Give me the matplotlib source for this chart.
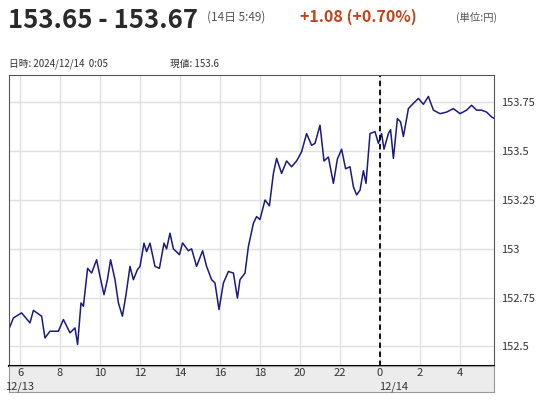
import matplotlib
matplotlib.use("Agg")
import matplotlib.pyplot as plt

plt.rcParams['font.family'] = ['Noto Sans CJK JP', 'DejaVu Sans']

hours = [5.47,5.67,6.08,6.5,6.67,7.08,7.25,7.5,7.92,8.17,8.5,8.75,8.88,9.05,9.17,9.38,9.58,9.83,10.0,10.2,
         10.37,10.53,10.75,10.92,11.12,11.3,11.5,11.67,11.87,12.0,12.2,12.33,12.5,12.75,12.97,13.2,13.33,13.5,13.67,13.97,
         14.13,14.42,14.58,14.83,15.13,15.33,15.58,15.75,15.95,16.17,16.42,16.67,16.87,17.0,17.25,17.42,17.67,17.83,18.0,18.25,
         18.47,18.67,18.83,19.08,19.33,19.58,19.83,20.08,20.33,20.58,20.75,21.0,21.2,21.42,21.67,21.87,22.08,22.28,22.5,22.67,
         22.83,23.0,23.17,23.3,23.5,23.75,23.92,24.08,24.2,24.42,24.53,24.67,24.87,25.03,25.17,25.42,25.67,25.92,26.17,26.42,
         26.67,27.0,27.33,27.67,28.0,28.33,28.58,28.83,29.08,29.33,29.58,29.72]
values = [152.595,152.646,152.672,152.621,152.685,152.655,152.544,152.578,152.578,152.638,152.57,152.595,152.51,152.723,152.706,152.90,152.876,152.944,152.859,152.765,
          152.842,152.944,152.842,152.723,152.655,152.765,152.91,152.842,152.893,152.91,153.029,152.986,153.029,152.91,152.90,153.029,153.0,153.08,153.0,152.97,
          153.03,152.99,153.0,152.91,152.99,152.91,152.842,152.825,152.689,152.825,152.884,152.876,152.748,152.842,152.876,153.012,153.131,153.165,153.15,153.25,
          153.22,153.386,153.463,153.386,153.45,153.42,153.45,153.497,153.59,153.53,153.54,153.633,153.45,153.47,153.335,153.46,153.51,153.41,153.42,153.318,
          153.276,153.30,153.40,153.335,153.59,153.60,153.54,153.59,153.51,153.59,153.61,153.463,153.667,153.65,153.575,153.718,153.745,153.77,153.74,153.78,
          153.71,153.692,153.70,153.718,153.692,153.71,153.735,153.71,153.71,153.70,153.675,153.667]
xtick_pos = [6,8,10,12,14,16,18,20,22,24,26,28]
xtick_labels = ['6','8','10','12','14','16','18','20','22','0','2','4']
ytick_vals = [152.5,152.75,153.0,153.25,153.5,153.75]
ytick_labels = ['152.5','152.75','153','153.25','153.5','153.75']

W, H = 537, 400
fig = plt.figure(figsize=(5.37, 4.0), dpi=100)
x0, x1, yt, yb = 9, 494, 75, 366
ax = fig.add_axes([x0/W, 1-yb/H, (x1-x0)/W, (yb-yt)/H])
ax.plot(hours, values, color='#1a1a80', lw=1.1)
ax.set_xlim(5.45, 29.7)
ax.set_ylim(152.40, 153.89)
ax.set_xticks(xtick_pos)
ax.set_yticks(ytick_vals)
ax.grid(True, color='#e0e0e0', lw=1)
ax.axvline(24, color='black', ls=(0, (3, 2)), lw=1.3)
ax.tick_params(axis='x', labelbottom=False, length=0)
ax.yaxis.tick_right()
ax.set_yticklabels(ytick_labels)
ax.tick_params(axis='y', length=0, labelsize=8, colors='#333333', pad=5)
for s in ax.spines.values():
    s.set_color('#555555')
ax.spines['bottom'].set_linewidth(1.5)
ax.spines['bottom'].set_color('black')

band = fig.add_axes([x0/W, 1-392/H, (x1-x0)/W, (392-366)/H])
band.set_facecolor('#ececec')
band.set_xlim(5.45, 29.7)
band.set_ylim(0, 1)
band.set_yticks([])
band.set_xticks([])
for s in band.spines.values():
    s.set_color('#999999')
for p, l in zip(xtick_pos, xtick_labels):
    band.text(p, 0.72, l, ha='center', va='center', fontsize=8, color='#333333')
band.text(6, 0.22, '12/13', ha='center', va='center', fontsize=8, color='#333333')
band.text(24.7, 0.22, '12/14', ha='center', va='center', fontsize=8, color='#333333')

fig.text(8/W, 1-20/H, '153.65 - 153.67', fontsize=18.5, fontweight='bold', color='#2a2a2a', va='center')
fig.text(207/W, 1-17/H, '(14日 5:49)', fontsize=8.5, color='#555555', va='center')
fig.text(300/W, 1-17/H, '+1.08 (+0.70%)', fontsize=11.5, fontweight='bold', color='#c8401a', va='center')
fig.text(456/W, 1-17/H, '(単位:円)', fontsize=7.5, color='#555555', va='center')
fig.text(9/W, 1-64/H, '日時: 2024/12/14  0:05', fontsize=7, color='#333333', va='center')
fig.text(170/W, 1-64/H, '現値: 153.6', fontsize=7, color='#333333', va='center')

fig.savefig('out.png', dpi=100)
